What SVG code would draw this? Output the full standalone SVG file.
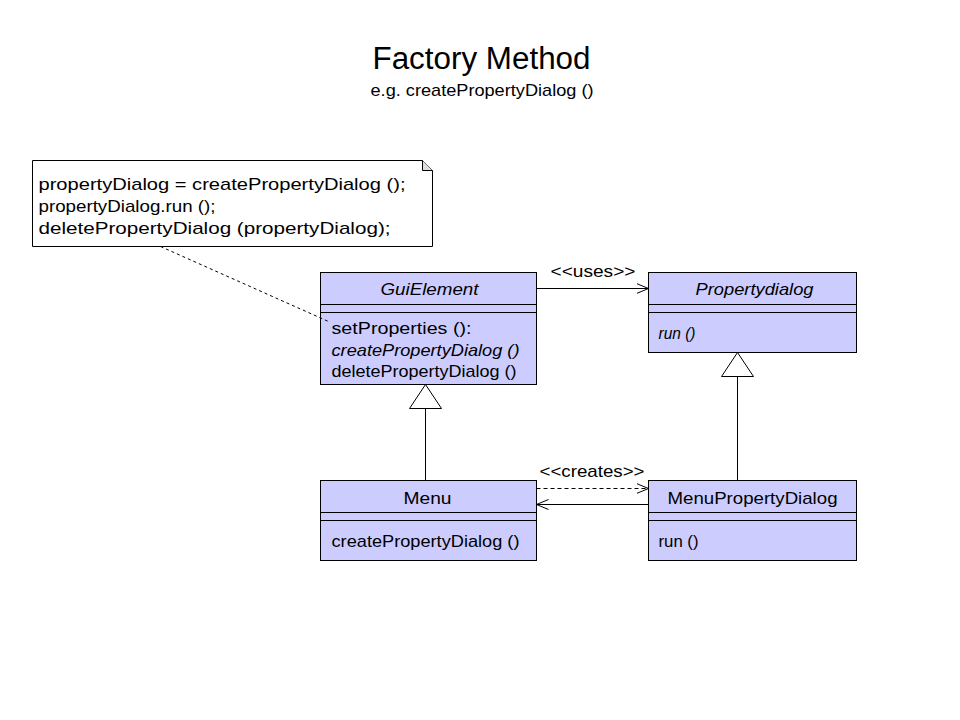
<svg xmlns="http://www.w3.org/2000/svg" width="960" height="720" viewBox="0 0 960 720">
<defs>
<style>
text{font-family:"Liberation Sans",Arial,sans-serif;font-size:17px;fill:#000}
.box{fill:#ccccff;stroke:#000;stroke-width:1}
.ln{stroke:#000;stroke-width:1;fill:none}
.it{font-style:italic}
</style>
<marker id="open" viewBox="0 0 12 12" refX="12" refY="6" markerWidth="12" markerHeight="12" markerUnits="userSpaceOnUse" orient="auto">
<path d="M0,1 L12,6 L0,11" fill="none" stroke="#000" stroke-width="1"/>
</marker>
</defs>
<rect width="960" height="720" fill="#fff"/>
<g transform="translate(0.5 0.5)">
<text x="372" y="68" style="font-size:31px" textLength="218" lengthAdjust="spacingAndGlyphs">Factory Method</text>
<text x="370" y="95" textLength="223" lengthAdjust="spacingAndGlyphs">e.g. createPropertyDialog ()</text>

<g id="note">
<path d="M32,160 H422 L432,170 V246 H32 Z" fill="#fff" stroke="#000"/>
<path d="M422,160 V170 H432" fill="#ddd" stroke="#000"/>
<text x="38" y="189" textLength="367" lengthAdjust="spacingAndGlyphs">propertyDialog = createPropertyDialog ();</text>
<text x="38" y="211" textLength="177" lengthAdjust="spacingAndGlyphs">propertyDialog.run ();</text>
<text x="38" y="233" textLength="352" lengthAdjust="spacingAndGlyphs">deletePropertyDialog (propertyDialog);</text>
</g>

<g id="GuiElement">
<rect class="box" x="320" y="272" width="216" height="112"/>
<line class="ln" x1="320" y1="304" x2="536" y2="304"/>
<line class="ln" x1="320" y1="312" x2="536" y2="312"/>
<text x="380" y="294" class="it" textLength="98" lengthAdjust="spacingAndGlyphs">GuiElement</text>
<text x="331" y="333" textLength="140" lengthAdjust="spacingAndGlyphs">setProperties ():</text>
<text x="331" y="355" class="it" textLength="188" lengthAdjust="spacingAndGlyphs">createPropertyDialog ()</text>
<text x="331" y="376" textLength="185" lengthAdjust="spacingAndGlyphs">deletePropertyDialog ()</text>
</g>

<g id="Propertydialog">
<rect class="box" x="648" y="272" width="208" height="80"/>
<line class="ln" x1="648" y1="304" x2="856" y2="304"/>
<line class="ln" x1="648" y1="312" x2="856" y2="312"/>
<text x="695" y="294" class="it" textLength="118" lengthAdjust="spacingAndGlyphs">Propertydialog</text>
<text x="658" y="338" class="it" textLength="37" lengthAdjust="spacingAndGlyphs">run ()</text>
</g>

<g id="Menu">
<rect class="box" x="320" y="480" width="216" height="80"/>
<line class="ln" x1="320" y1="512" x2="536" y2="512"/>
<line class="ln" x1="320" y1="520" x2="536" y2="520"/>
<text x="403" y="503" textLength="48" lengthAdjust="spacingAndGlyphs">Menu</text>
<text x="331" y="546" textLength="188" lengthAdjust="spacingAndGlyphs">createPropertyDialog ()</text>
</g>

<g id="MenuPropertyDialog">
<rect class="box" x="648" y="480" width="208" height="80"/>
<line class="ln" x1="648" y1="512" x2="856" y2="512"/>
<line class="ln" x1="648" y1="520" x2="856" y2="520"/>
<text x="667" y="503" textLength="170" lengthAdjust="spacingAndGlyphs">MenuPropertyDialog</text>
<text x="658" y="546" textLength="40" lengthAdjust="spacingAndGlyphs">run ()</text>
</g>

<g id="connectors">
<line class="ln" x1="160" y1="246" x2="328" y2="321" stroke-dasharray="3,3"/>
<line class="ln" x1="536" y1="288" x2="648" y2="288" marker-end="url(#open)"/>
<text x="550" y="276" textLength="85" lengthAdjust="spacingAndGlyphs">&lt;&lt;uses&gt;&gt;</text>
<line class="ln" x1="536" y1="488" x2="648" y2="488" stroke-dasharray="4,3" marker-end="url(#open)"/>
<text x="539" y="476" textLength="105" lengthAdjust="spacingAndGlyphs">&lt;&lt;creates&gt;&gt;</text>
<line class="ln" x1="648" y1="504" x2="536" y2="504" marker-end="url(#open)"/>
<line class="ln" x1="425" y1="480" x2="425" y2="408"/>
<path d="M425,384 L441,408 L409,408 Z" fill="#fff" stroke="#000"/>
<line class="ln" x1="737" y1="480" x2="737" y2="376"/>
<path d="M737,352 L753,376 L721,376 Z" fill="#fff" stroke="#000"/>
</g>
</g>
</svg>
